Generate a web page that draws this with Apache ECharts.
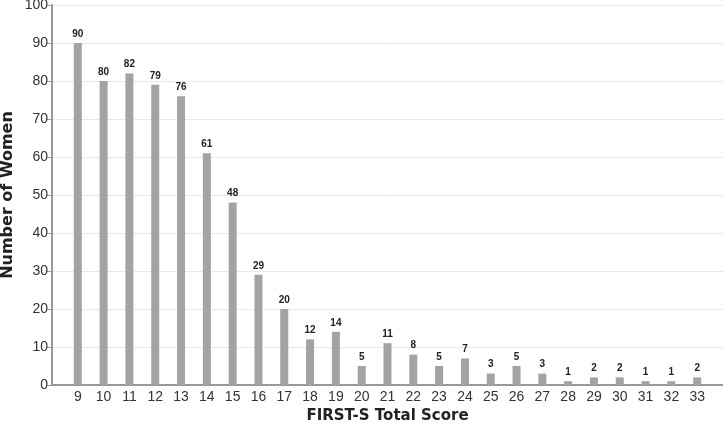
<!DOCTYPE html>
<html><head><meta charset="utf-8">
<script src="https://cdn.jsdelivr.net/npm/echarts@6/dist/echarts.min.js"></script>
<style>html,body{margin:0;padding:0;background:#fff}#c{width:723px;height:430px}</style>
</head><body><div id="c"></div>
<script>
var scores = [9,10,11,12,13,14,15,16,17,18,19,20,21,22,23,24,25,26,27,28,29,30,31,32,33];
var counts = [90,80,82,79,76,61,48,29,20,12,14,5,11,8,5,7,3,5,3,1,2,2,1,1,2];
var yTicks = [0,10,20,30,40,50,60,70,80,90,100];

var data = scores.map(function(s,i){return [s, counts[i]];});
var chart = echarts.init(document.getElementById('c'));
chart.setOption({
  animation:false,
  grid:{left:52,right:0,top:5,bottom:45,containLabel:false,outerBoundsMode:'none'},
  xAxis:{type:'value',min:8,max:34,interval:1,
    name:'FIRST-S Total Score',nameLocation:'middle',nameGap:21,
    nameTextStyle:{fontFamily:'DejaVu Sans',fontWeight:'bold',fontSize:15,color:'#222'},
    axisLine:{lineStyle:{color:'#999',width:2}},
    axisTick:{show:false},
    splitLine:{show:false},
    axisLabel:{fontFamily:'Liberation Sans',fontSize:14,color:'#333',margin:5,
      formatter:function(v){return (v<scores[0]||v>scores[scores.length-1])?'':String(v);}}
  },
  yAxis:{type:'value',min:yTicks[0],max:yTicks[yTicks.length-1],interval:10,
    name:'Number of Women',nameLocation:'middle',nameGap:36,nameMoveOverlap:false,
    nameTextStyle:{fontFamily:'DejaVu Sans',fontWeight:'bold',fontSize:16,color:'#222'},
    axisLine:{show:true,lineStyle:{color:'#999',width:2}},
    axisTick:{show:true,length:5,lineStyle:{color:'#999'}},
    splitLine:{lineStyle:{color:'#e8e8e8'}},
    axisLabel:{fontFamily:'Liberation Sans',fontSize:14,color:'#333',margin:4}
  },
  series:[{type:'bar',data:data,barWidth:8,
    itemStyle:{color:'#a3a3a3'},
    label:{show:true,position:'top',distance:4,fontFamily:'"Liberation Sans Narrow","Liberation Sans",sans-serif',fontWeight:'bold',fontSize:10,color:'#222',
      formatter:function(p){return p.value[1];}}
  }]
});
</script></body></html>
